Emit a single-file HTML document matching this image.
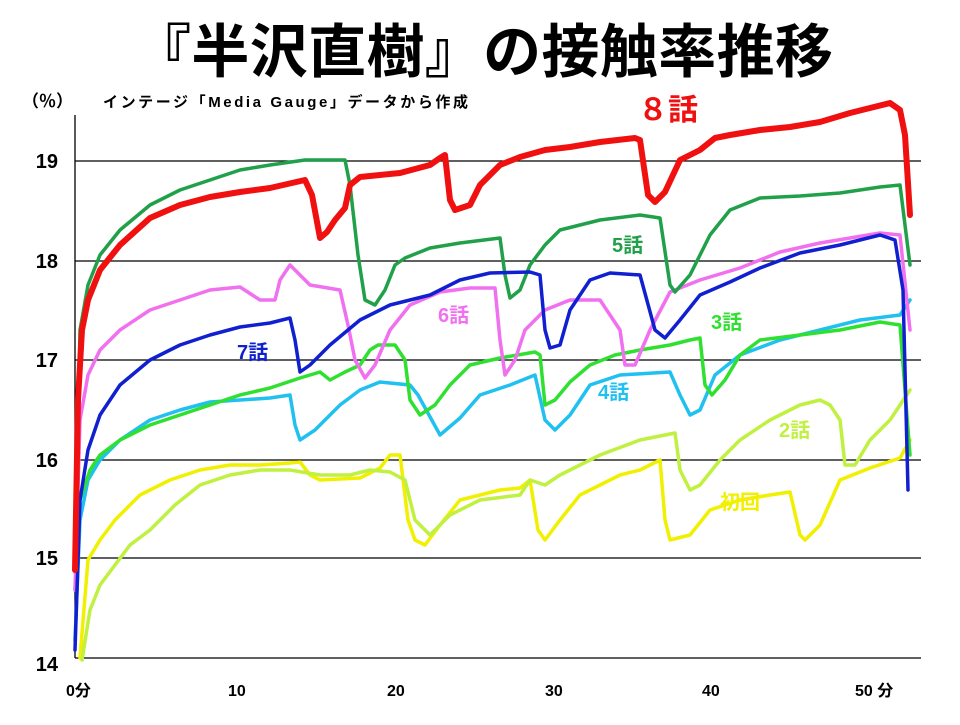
<!DOCTYPE html>
<html><head><meta charset="utf-8"><style>
body{margin:0;background:#fff;width:960px;height:720px;overflow:hidden;font-family:"Liberation Sans","Noto Sans CJK JP",sans-serif}
</style></head><body>
<svg width="960" height="720" viewBox="0 0 960 720" xmlns="http://www.w3.org/2000/svg" font-family="'Liberation Sans','Noto Sans CJK JP',sans-serif">
<text x="483" y="72" text-anchor="middle" font-size="58" font-weight="bold" fill="#000" textLength="700">『半沢直樹』の接触率推移</text>
<text x="22" y="107" font-size="17" font-weight="bold">（％）</text>
<text x="103" y="107" font-size="15" font-weight="bold" textLength="365">インテージ「Media Gauge」データから作成</text>
<g stroke="#000" stroke-width="1.3">
<line x1="75" y1="161" x2="921" y2="161"/><line x1="75" y1="261" x2="921" y2="261"/><line x1="75" y1="360" x2="921" y2="360"/><line x1="75" y1="460" x2="921" y2="460"/><line x1="75" y1="558" x2="921" y2="558"/><line x1="75" y1="658" x2="921" y2="658"/>
<line x1="75" y1="115" x2="75" y2="658"/>
</g>
<g font-size="20" font-weight="bold" text-anchor="end">
<text x="58" y="168">19</text><text x="58" y="268">18</text><text x="58" y="367">17</text><text x="58" y="467">16</text><text x="58" y="565">15</text><text x="58" y="671">14</text>
</g>
<g font-size="16" font-weight="bold">
<text x="66" y="696">0分</text><text x="228" y="696">10</text><text x="387" y="696">20</text><text x="545" y="696">30</text><text x="702" y="696">40</text><text x="855" y="696">50 分</text>
</g>
<g fill="none" stroke-linejoin="round" stroke-linecap="round">
<polyline stroke="#f0f000" stroke-width="3.5" points="80,658 88,560 100,540 115,520 140,495 170,480 200,470 230,465 260,465 290,463 300,462 310,475 320,480 360,478 380,468 390,455 400,455 408,520 415,540 425,545 440,525 460,500 500,490 520,488 530,480 538,530 545,540 560,520 580,495 620,475 640,470 660,460 665,520 670,540 690,535 710,510 740,500 770,495 790,492 800,535 805,540 820,525 840,480 870,468 900,458 910,440"/>
<polyline stroke="#c0f040" stroke-width="3.5" points="82,660 90,610 100,585 115,565 130,545 150,530 175,505 200,485 230,475 260,470 290,470 320,475 350,475 370,470 390,472 405,480 415,520 430,535 450,515 480,500 520,495 530,480 545,485 560,475 600,455 640,440 675,433 680,470 690,490 700,485 720,460 740,440 770,420 800,405 820,400 830,405 840,420 845,465 855,465 870,440 890,420 910,390"/>
<polyline stroke="#20c0f0" stroke-width="3.5" points="75,640 80,520 88,480 100,460 120,440 150,420 180,410 210,402 240,400 270,398 290,395 295,425 300,440 315,430 340,405 360,390 380,382 400,384 410,385 418,395 440,435 460,418 480,395 510,385 535,375 545,420 555,430 570,415 590,385 620,375 670,372 680,395 690,415 700,410 715,375 740,355 780,340 820,330 860,320 900,315 910,300"/>
<polyline stroke="#30e030" stroke-width="3.5" points="75,590 80,500 90,470 100,455 120,440 150,425 180,415 210,405 240,395 270,388 300,378 320,372 330,380 345,372 360,365 370,350 378,345 395,345 405,360 410,400 420,415 435,405 450,385 470,365 500,358 535,352 540,355 545,405 555,400 570,382 590,365 615,355 640,350 670,345 690,340 700,338 705,385 712,395 725,380 740,355 760,340 800,335 840,330 880,322 900,325 910,455"/>
<polyline stroke="#f070f0" stroke-width="3.5" points="75,590 80,420 88,375 100,350 120,330 150,310 180,300 210,290 240,287 260,300 275,300 280,280 290,265 310,285 340,290 348,325 355,360 365,378 375,365 390,330 410,305 440,292 470,288 495,288 500,340 505,375 515,360 525,330 545,310 570,300 600,300 620,330 625,365 635,365 650,330 670,292 700,280 740,268 780,252 820,243 850,238 880,233 900,235 910,330"/>
<polyline stroke="#21a04a" stroke-width="3.5" points="75,570 80,330 88,285 100,255 120,230 150,205 180,190 210,180 240,170 270,165 305,160 345,160 350,185 358,255 365,300 375,305 385,290 395,265 405,258 430,248 460,243 500,238 505,275 510,298 520,290 530,265 545,245 560,230 600,220 640,215 660,218 670,285 675,292 690,275 710,235 730,210 760,198 800,196 840,193 880,187 900,185 910,265"/>
<polyline stroke="#1020d0" stroke-width="3.5" points="75,650 80,500 88,450 100,415 120,385 150,360 180,345 210,335 240,327 270,323 290,318 295,340 300,372 310,365 330,345 360,320 390,305 430,295 460,280 490,273 530,272 540,275 545,330 550,348 560,345 570,310 590,280 610,273 640,275 655,330 665,338 680,320 700,295 730,282 760,268 800,253 840,245 880,235 895,240 903,290 908,490"/>
<polyline stroke="#f01010" stroke-width="6" points="75,570 78,400 82,330 88,300 100,270 120,245 150,218 180,205 210,197 240,192 270,188 305,180 312,195 320,238 327,232 335,220 345,208 350,185 360,177 380,175 400,173 430,165 440,158 445,155 450,200 455,210 470,205 480,185 500,165 520,157 545,150 570,147 600,142 635,138 640,140 648,195 655,202 665,192 680,160 700,150 715,138 730,135 760,130 790,127 820,122 850,113 870,108 890,103 900,110 905,135 910,215"/>
</g>
<g font-weight="bold">
<text x="638" y="120" font-size="30" fill="#f01010">８話</text>
<text x="612" y="252" font-size="20" fill="#21a04a">5話</text>
<text x="438" y="322" font-size="20" fill="#f070f0">6話</text>
<text x="711" y="329" font-size="20" fill="#30e030">3話</text>
<text x="237" y="359" font-size="20" fill="#1020d0">7話</text>
<text x="598" y="399" font-size="20" fill="#20c0f0">4話</text>
<text x="779" y="437" font-size="20" fill="#c0f040">2話</text>
<text x="720" y="509" font-size="20" fill="#f0f000">初回</text>
</g>
</svg>
</body></html>
